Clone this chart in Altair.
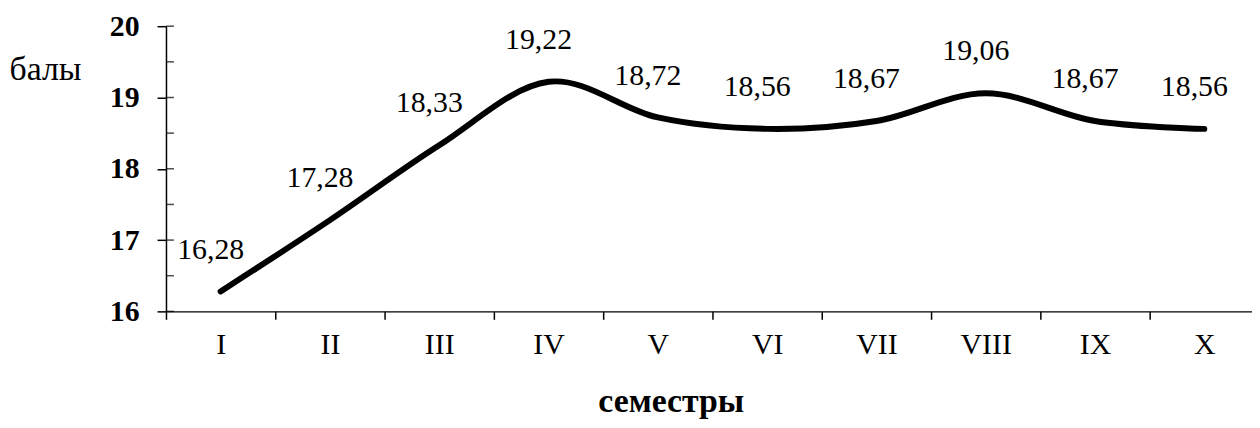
import altair as alt
import pandas as pd

semesters = ["I", "II", "III", "IV", "V", "VI", "VII", "VIII", "IX", "X"]
scores = [16.28, 17.28, 18.33, 19.22, 18.72, 18.56, 18.67, 19.06, 18.67, 18.56]
labels = ["16,28", "17,28", "18,33", "19,22", "18,72", "18,56", "18,67", "19,06", "18,67", "18,56"]
y_major = [16, 17, 18, 19, 20]
y_minor = [16.5, 17.5, 18.5, 19.5]

FONT = "Liberation Serif"

df = pd.DataFrame({"sem": semesters, "val": scores, "lab": labels})
ticks_df = pd.DataFrame({"t": y_major + y_minor})

xenc = alt.X(
    "sem:N",
    sort=semesters,
    scale=alt.Scale(range=[0, 1100], paddingInner=0, paddingOuter=0),
    axis=alt.Axis(
        title="семестры",
        titleFont=FONT, titleFontSize=34, titleFontWeight="bold", titleColor="black",
        titleBaseline="alphabetic", titleY=101, titleX=508,
        labelFont=FONT, labelFontSize=30, labelColor="black", labelAngle=0,
        labelPadding=10, tickBand="extent", tickSize=8, tickColor="black", tickWidth=1.5,
        domainColor="black", domainWidth=1.5, grid=False,
    ),
)
yscale = alt.Scale(domain=[16, 20], nice=False, zero=False)
yenc = alt.Y(
    "val:Q",
    scale=yscale,
    axis=alt.Axis(
        title="балы", titleAngle=0, titleAlign="left", titleBaseline="middle",
        titleX=-158, titleY=44, titleFont=FONT, titleFontSize=34, titleFontWeight="normal",
        titleColor="black",
        values=y_major, format="d",
        labelFont=FONT, labelFontSize=30, labelFontWeight="bold", labelColor="black",
        labelPadding=18, tickSize=9, tickColor="black", tickWidth=1.5,
        domainColor="black", domainWidth=1.5, grid=False,
    ),
)

line = alt.Chart(df).mark_line(
    color="black", strokeWidth=6, interpolate="cardinal", strokeCap="round"
).encode(x=xenc, y=yenc)

text = alt.Chart(df).mark_text(
    font=FONT, fontSize=30, color="black", dx=-10, dy=-42, baseline="middle"
).encode(x=alt.X("sem:N", sort=semesters), y=alt.Y("val:Q"), text="lab:N")

inner_ticks = alt.Chart(ticks_df).mark_tick(
    color="black", thickness=1.5, size=8, orient="horizontal"
).encode(x=alt.value(4), y=alt.Y("t:Q", scale=yscale))

chart = alt.layer(line, text, inner_ticks).properties(
    width=1093, height=287,
    autosize=alt.AutoSizeParams(type="none"),
    padding={"left": 159, "top": 17, "right": 0, "bottom": 108},
).configure_view(stroke=None)

chart.save("out.html", embed_options={"renderer": "svg", "actions": False})
